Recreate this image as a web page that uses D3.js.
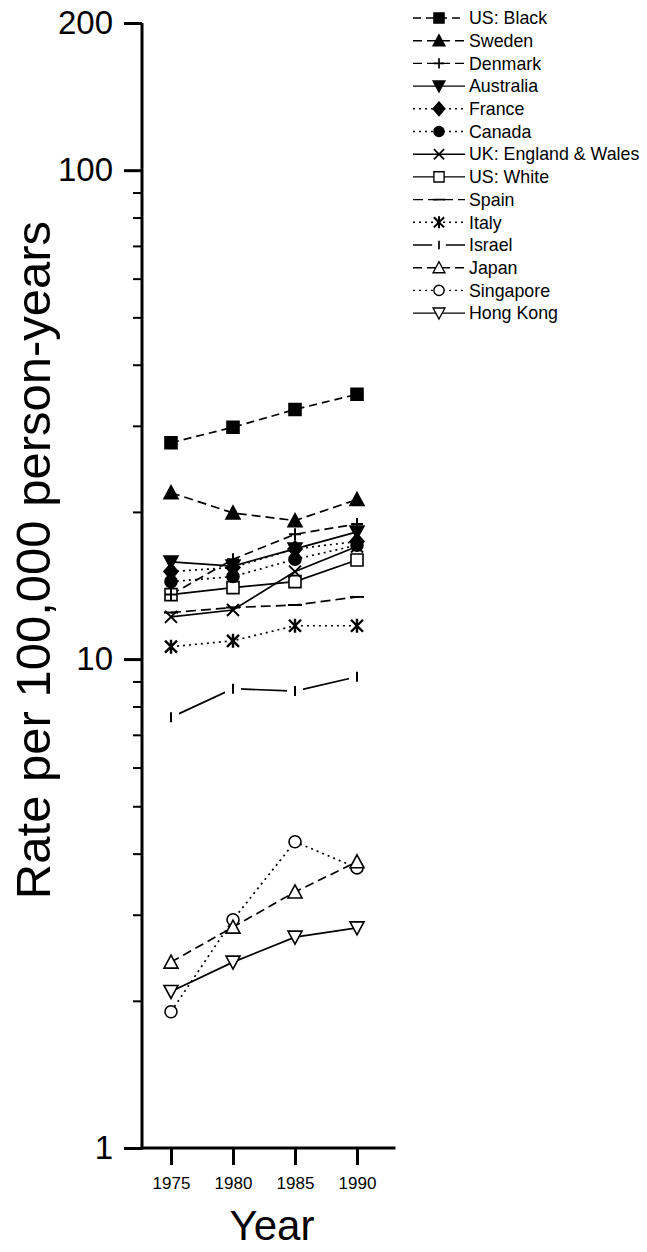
<!DOCTYPE html>
<html>
<head>
<meta charset="utf-8">
<script src="https://cdn.jsdelivr.net/npm/d3@7"></script>
<style>
  body { margin: 0; background: #fff; }
  svg { display: block; font-family: "Liberation Sans", Arial, sans-serif; }
</style>
</head>
<body>
<div id="chart"></div>
<script>
// data (rate per 100,000 person-years)
const years = [1975, 1980, 1985, 1990];
const seriesNames = ["US: Black", "Sweden", "Denmark", "Australia", "France", "Canada",
  "UK: England & Wales", "US: White", "Spain", "Italy", "Israel", "Japan", "Singapore", "Hong Kong"];

const usBlack   = [27.7, 29.8, 32.4, 34.8];
const sweden    = [21.9, 19.9, 19.2, 21.2];
const denmark   = [13.55, 16.0, 18.0, 18.9];
const australia = [15.8, 15.5, 16.8, 18.2];
const france    = [15.1, 15.4, 16.8, 17.4];
const canada    = [14.4, 14.75, 16.0, 17.1];
const ukEngWales = [12.2, 12.6, 15.1, 17.0];
const usWhite   = [13.55, 14.0, 14.4, 15.95];
const spain     = [12.45, 12.75, 12.9, 13.4];
const italy     = [10.6, 10.9, 11.7, 11.7];
const israel    = [7.6, 8.7, 8.6, 9.2];
const japan     = [2.40, 2.83, 3.34, 3.85];
const singapore = [1.90, 2.93, 4.23, 3.74];
const hongKong  = [2.09, 2.40, 2.70, 2.82];

const yMajorTicks = [1, 10, 100, 200];
const yMinorTicks = [2, 3, 4, 5, 6, 7, 8, 9, 20, 30, 40, 50, 60, 70, 80, 90];

const values = [usBlack, sweden, denmark, australia, france, canada, ukEngWales,
  usWhite, spain, italy, israel, japan, singapore, hongKong];

// line style + marker per series
const styles = {
  "US: Black":  { dash: "8,5", mark: "square", fill: true },
  "Sweden":     { dash: "9,5", mark: "tri", fill: true },
  "Denmark":    { dash: "9,5", mark: "plus" },
  "Australia":  { dash: null,  mark: "triDown", fill: true },
  "France":     { dash: "2,4", mark: "diamond", fill: true },
  "Canada":     { dash: "2,4", mark: "circle", fill: true },
  "UK: England & Wales": { dash: null, mark: "times" },
  "US: White":  { dash: null,  mark: "square", fill: false },
  "Spain":      { dash: "10,5", mark: "hline" },
  "Italy":      { dash: "2,4", mark: "asterisk" },
  "Israel":     { dash: null,  mark: "vline", gap: true },
  "Japan":      { dash: "9,5", mark: "tri", fill: false },
  "Singapore":  { dash: "2,4", mark: "circle", fill: false },
  "Hong Kong":  { dash: null,  mark: "triDown", fill: false }
};

const series = seriesNames.map((name, i) => ({
  name,
  points: years.map((yr, j) => ({ year: yr, value: values[i][j] })),
  style: styles[name]
}));

const width = 647, height = 1252;
const svg = d3.select("#chart").append("svg")
  .attr("width", width)
  .attr("height", height);

svg.append("rect").attr("width", width).attr("height", height).attr("fill", "#fff");

const axisX0 = 142;   // y axis position
const x = d3.scaleLinear().domain([1975, 1990]).range([171, 357]);
const y = d3.scaleLog().domain([1, 200]).range([1148, 23]);

// marker path builder
function markerPath(type) {
  const r = 6;
  switch (type) {
    case "square": return `M${-r},${-r}H${r}V${r}H${-r}Z`;
    case "tri": return `M0,${-r - 1}L${r + 1},${r}L${-r - 1},${r}Z`;
    case "triDown": return `M0,${r + 1}L${r + 1},${-r}L${-r - 1},${-r}Z`;
    case "diamond": return `M0,${-r - 2}L${r + 1},0L0,${r + 2}L${-r - 1},0Z`;
    case "circle": { const p = d3.path(); p.arc(0, 0, r, 0, 2 * Math.PI); p.closePath(); return p.toString(); }
    case "plus": return `M${-r},0H${r}M0,${-r}V${r}`;
    case "times": return `M${-r},${-r}L${r},${r}M${-r},${r}L${r},${-r}`;
    case "asterisk": return `M${-r},${-r}L${r},${r}M${-r},${r}L${r},${-r}M0,${-r - 1}V${r + 1}`;
    case "hline": return `M${-r - 1},0H${r + 1}`;
    case "vline": return `M0,${-r + 1}V${r - 1}`;
  }
}

function drawMarker(g, s) {
  const st = s.style;
  if (st.gap) {
    g.append("rect").attr("x", -8).attr("y", -5).attr("width", 16).attr("height", 10).attr("fill", "#fff");
  }
  const closed = ["square", "tri", "triDown", "diamond", "circle"].includes(st.mark);
  g.append("path")
    .attr("d", markerPath(st.mark))
    .attr("fill", closed ? (st.fill ? "#000" : "#fff") : "none")
    .attr("stroke", "#000")
    .attr("stroke-width", closed ? 1.6 : (st.mark === "asterisk" ? 2.4 : 2));
}

// axes
const yAxisMajor = svg.append("g")
  .attr("transform", `translate(${axisX0},0)`)
  .call(d3.axisLeft(y).tickValues(yMajorTicks).tickSize(18).tickPadding(11).tickFormat(d3.format("d")));
yAxisMajor.select(".domain").remove();
yAxisMajor.selectAll(".tick line").attr("stroke-width", 3);
yAxisMajor.selectAll(".tick text")
  .attr("font-size", 33)
  .attr("font-family", "Liberation Sans, Arial, sans-serif")
  .attr("fill", "#000");

const yAxisMinor = svg.append("g")
  .attr("transform", `translate(${axisX0},0)`)
  .call(d3.axisLeft(y).tickValues(yMinorTicks).tickSize(9).tickFormat(""));
yAxisMinor.select(".domain").remove();
yAxisMinor.selectAll(".tick line").attr("stroke-width", 2);

const xAxis = svg.append("g")
  .attr("transform", `translate(0,${y(1)})`)
  .call(d3.axisBottom(x).tickValues(years).tickSize(17).tickPadding(12).tickFormat(d3.format("d")));
xAxis.select(".domain").remove();
xAxis.selectAll(".tick line").attr("stroke-width", 3);
xAxis.selectAll(".tick text")
  .attr("font-size", 17)
  .attr("font-family", "Liberation Sans, Arial, sans-serif")
  .attr("fill", "#000");

// axis lines
svg.append("line")
  .attr("x1", axisX0).attr("x2", axisX0)
  .attr("y1", y(200)).attr("y2", y(1) + 1.5)
  .attr("stroke", "#000").attr("stroke-width", 3);
svg.append("line")
  .attr("x1", axisX0 - 1.5).attr("x2", x(1993.1))
  .attr("y1", y(1)).attr("y2", y(1))
  .attr("stroke", "#000").attr("stroke-width", 3);

// axis titles
svg.append("text")
  .attr("transform", `translate(50,560) rotate(-90)`)
  .attr("text-anchor", "middle")
  .attr("font-size", 49)
  .text("Rate per 100,000 person-years");

svg.append("text")
  .attr("x", 272)
  .attr("y", 1240)
  .attr("text-anchor", "middle")
  .attr("font-size", 42)
  .text("Year");

// lines
const line = d3.line().x(d => x(d.year)).y(d => y(d.value));
const plot = svg.append("g");

plot.selectAll("path.series")
  .data(series)
  .join("path")
  .attr("class", "series")
  .attr("d", d => line(d.points))
  .attr("fill", "none")
  .attr("stroke", "#000")
  .attr("stroke-width", 1.7)
  .attr("stroke-dasharray", d => d.style.dash);

// markers, last series first so the top of the legend sits on top
series.slice().reverse().forEach(s => {
  s.points.forEach(p => {
    const g = plot.append("g").attr("transform", `translate(${x(p.year)},${y(p.value)})`);
    drawMarker(g, s);
  });
});

// legend
const legend = svg.append("g");
const rowH = 22.7, legendTop = 18;
series.forEach((s, i) => {
  const row = legend.append("g").attr("transform", `translate(0,${legendTop + i * rowH})`);
  row.append("line")
    .attr("x1", 413).attr("x2", 465)
    .attr("stroke", "#000").attr("stroke-width", 1.4)
    .attr("stroke-dasharray", s.style.dash);
  const m = row.append("g").attr("transform", "translate(439,0) scale(0.85)");
  drawMarker(m, s);
  row.append("text")
    .attr("x", 469)
    .attr("dy", "0.35em")
    .attr("font-size", 17.8)
    .text(s.name);
});
</script>
</body>
</html>
